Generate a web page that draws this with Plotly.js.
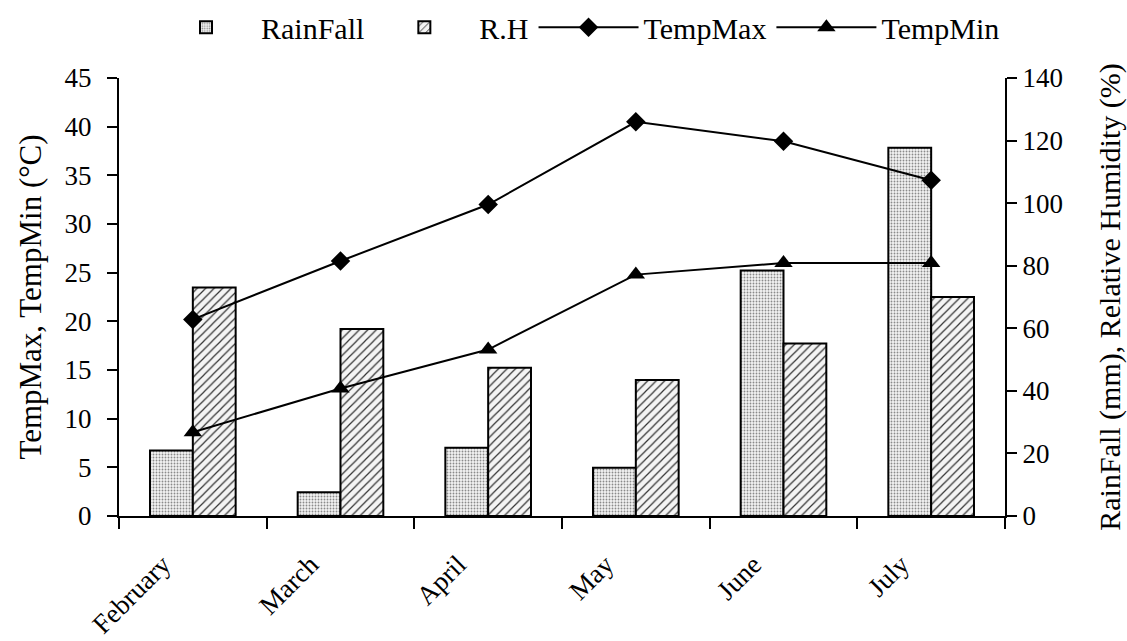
<!DOCTYPE html>
<html>
<head>
<meta charset="utf-8">
<script src="https://cdn.plot.ly/plotly-3.0.1.min.js"></script>
<style>html,body{margin:0;padding:0;background:#fff;}#chart{width:1127px;height:641px;}</style>
</head>
<body>
<div id="chart"></div>
<script>
const months = ["February", "March", "April", "May", "June", "July"];
const rainFall = [20.9, 7.6, 21.8, 15.4, 78.5, 117.7];
const relHumidity = [73.0, 59.8, 47.4, 43.5, 55.1, 70.0];
const tempMax = [20.2, 26.2, 32.0, 40.5, 38.5, 34.5];
const tempMin = [8.6, 13.1, 17.1, 24.8, 26.0, 26.0];
const leftTicks = [0, 5, 10, 15, 20, 25, 30, 35, 40, 45];
const rightTicks = [0, 20, 40, 60, 80, 100, 120, 140];

const font = "Liberation Serif, Times New Roman, serif";

// Bars use the right-hand axis (y), temperature lines use the left-hand overlay axis (y2) so they draw on top.
const traces = [
  {
    type: "bar", name: "RainFall", x: months, y: rainFall, yaxis: "y",
    marker: {
      color: "#ffffff",
      line: {color: "#000", width: 2},
      pattern: {shape: ".", fgcolor: "#8a8a8a", bgcolor: "#f3f3f3", size: 3, solidity: 0.3}
    }
  },
  {
    type: "bar", name: "R.H", x: months, y: relHumidity, yaxis: "y",
    marker: {
      color: "#ffffff",
      line: {color: "#000", width: 2},
      pattern: {shape: "/", fgcolor: "#333", bgcolor: "#f4f4f4", size: 6, solidity: 0.2}
    }
  },
  {
    type: "scatter", mode: "lines+markers", name: "TempMax", x: months, y: tempMax, yaxis: "y2",
    line: {color: "#000", width: 2},
    marker: {symbol: "diamond", size: 15, color: "#000"}
  },
  {
    type: "scatter", mode: "lines+markers", name: "TempMin", x: months, y: tempMin, yaxis: "y2",
    line: {color: "#000", width: 2},
    marker: {symbol: "triangle-up", size: 16, color: "#000"}
  }
];

const layout = {
  width: 1127, height: 641,
  margin: {l: 119, r: 122, t: 78, b: 125, autoexpand: false},
  paper_bgcolor: "#fff", plot_bgcolor: "#fff",
  font: {family: font, size: 27, color: "#000"},
  barmode: "group", bargap: 0.42, bargroupgap: 0,
  showlegend: true,
  legend: {
    orientation: "h", x: 1.0, xanchor: "right", y: 1.175, yanchor: "top",
    font: {family: font, size: 30, color: "#000"},
    traceorder: "normal", itemwidth: 100
  },
  xaxis: {
    type: "category", showline: true, linecolor: "#000", linewidth: 2,
    ticks: "outside", tickson: "boundaries", ticklen: 11, tickwidth: 2, tickcolor: "#000",
    tickangle: -45, showgrid: false, zeroline: false, automargin: false,
    tickfont: {family: font, size: 27, color: "#000"},
    ticklabelshift: -30, ticklabelstandoff: 20
  },
  yaxis: {
    range: [0, 140], tickvals: rightTicks, ticktext: rightTicks.map(String),
    side: "right",
    showline: true, linecolor: "#000", linewidth: 2,
    ticks: "outside", ticklen: 10, tickwidth: 2, tickcolor: "#000",
    showgrid: false, zeroline: false, automargin: false,
    tickfont: {family: font, size: 27, color: "#000"}, ticklabelstandoff: 0,
    title: {text: "RainFall (mm), Relative Humidity (%)", font: {family: font, size: 30, color: "#000"}, standoff: 38}
  },
  yaxis2: {
    range: [0, 45], tickvals: leftTicks, ticktext: leftTicks.map(String),
    overlaying: "y", side: "left",
    showline: true, linecolor: "#000", linewidth: 2,
    ticks: "outside", ticklen: 10, tickwidth: 2, tickcolor: "#000",
    showgrid: false, zeroline: false, automargin: false,
    tickfont: {family: font, size: 27, color: "#000"}, ticklabelstandoff: 10,
    title: {text: "TempMax, TempMin (°C)", font: {family: font, size: 31, color: "#000"}, standoff: 14}
  }
};

Plotly.newPlot("chart", traces, layout, {displayModeBar: false, staticPlot: true});
</script>
</body>
</html>
